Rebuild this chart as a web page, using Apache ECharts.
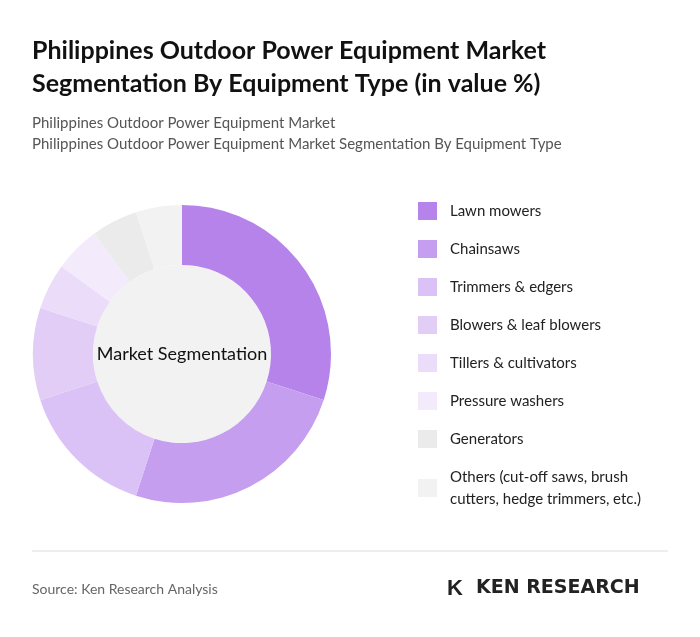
<!DOCTYPE html>
<html><head><meta charset="utf-8">
<script src="https://cdn.jsdelivr.net/npm/echarts@6/dist/echarts.min.js"></script>
<style>body{margin:0;background:#fff}#c{width:700px;height:637px}</style>
</head><body><div id="c"></div>
<script>
const categories = ["Lawn mowers", "Chainsaws", "Trimmers & edgers", "Blowers & leaf blowers",
  "Tillers & cultivators", "Pressure washers", "Generators",
  "Others (cut-off saws, brush\ncutters, hedge trimmers, etc.)"];
const values = [30, 25, 15, 10, 5, 5, 5, 5];
const colors = ["#b683ea", "#c59ef0", "#dbc2f6", "#e2cdf7", "#ebdcf9", "#f3ebfc", "#ebebeb", "#f2f2f2"];

const chart = echarts.init(document.getElementById("c"));
const font = "Lato, 'Open Sans', sans-serif";
chart.setOption({
  textStyle: { fontFamily: font },
  title: [
    { text: "Philippines Outdoor Power Equipment Market\nSegmentation By Equipment Type (in value %)",
      left: 27, top: 29, textStyle: { fontSize: 25, fontWeight: "bold", color: "#111", lineHeight: 33, fontFamily: font } },
    { text: "Philippines Outdoor Power Equipment Market\nPhilippines Outdoor Power Equipment Market Segmentation By Equipment Type",
      left: 27, top: 108, textStyle: { fontSize: 15, fontWeight: "normal", color: "#555", lineHeight: 21, fontFamily: font } },
    { text: "Source: Ken Research Analysis", left: 27, top: 577,
      textStyle: { fontSize: 14, fontWeight: "normal", color: "#666", fontFamily: font } }
  ],
  legend: {
    orient: "vertical", left: 413, top: 195, itemWidth: 19, itemHeight: 18, itemGap: 16,
    icon: "rect", selectedMode: false,
    textStyle: { fontSize: 15, color: "#222", lineHeight: 22, fontFamily: font, padding: [0, 0, 0, 8] },
    data: categories
  },
  graphic: [
    { type: "line", shape: { x1: 32, y1: 551, x2: 668, y2: 551 }, style: { stroke: "#ddd", lineWidth: 1 } },
    { type: "text", left: 447, top: 578, style: { text: "K", font: "bold 22px sans-serif", fill: "#222" } },
    { type: "text", left: 476, top: 579, style: { text: "KEN RESEARCH", font: "bold 19px 'DejaVu Sans', sans-serif", fill: "#222" } }
  ],
  series: [
    { type: "pie", center: [182, 354], radius: [0, 89], silent: true,
      label: { show: true, position: "center", formatter: "Market Segmentation", fontSize: 18, color: "#111", fontFamily: font },
      labelLine: { show: false },
      data: [{ value: 1, name: "center", itemStyle: { color: "#f2f2f2" } }] },
    { type: "pie", center: [182, 354], radius: [89, 149], startAngle: 90, clockwise: true,
      label: { show: false }, labelLine: { show: false },
      data: categories.map((n, i) => ({ name: n, value: values[i], itemStyle: { color: colors[i] } })) }
  ]
});
</script></body></html>
